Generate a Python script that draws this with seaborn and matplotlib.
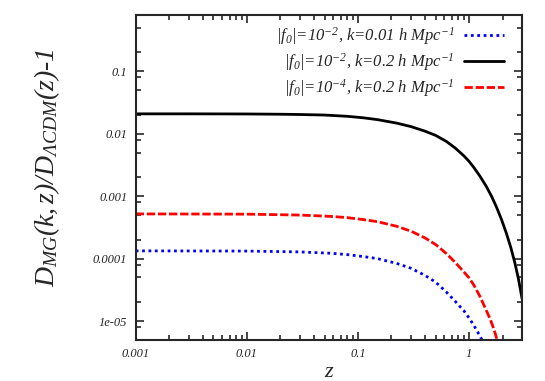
import matplotlib
matplotlib.use('Agg')
import matplotlib.pyplot as plt
import matplotlib.ticker as mticker
import seaborn as sns

# (z, D_MG/D_LCDM - 1)
z_blue = [0.001, 0.01, 0.03, 0.056, 0.08, 0.111, 0.15, 0.222, 0.3, 0.4, 0.5,
          0.626, 0.75, 0.9, 1.0, 1.1, 1.25, 1.34, 1.45]
d_blue = [1.33e-4, 1.32e-4, 1.28e-4, 1.22e-4, 1.16e-4, 1.08e-4, 1.0e-4, 8.4e-5,
          7.0e-5, 5.4e-5, 4.2e-5, 2.9e-5, 2.07e-5, 1.45e-5, 1.12e-5, 8.6e-6,
          5.8e-6, 4.6e-6, 3.5e-6]

z_black = [0.001, 0.003, 0.01, 0.02, 0.03, 0.05, 0.08, 0.111, 0.15, 0.222, 0.3,
           0.4, 0.5, 0.626, 0.75, 0.9, 1.0, 1.1, 1.25, 1.43, 1.6, 1.76, 1.95,
           2.17, 2.38, 2.58, 2.78, 3.0]
d_black = [0.0208, 0.0208, 0.0207, 0.0205, 0.0203, 0.0199, 0.0190, 0.0180,
           0.0168, 0.0148, 0.0130, 0.0110, 0.0094, 0.0075, 0.0059, 0.0044,
           0.0036, 0.0029, 0.0021, 0.00143, 0.00098, 0.000675, 0.00043,
           0.000252, 0.000148, 0.000086, 0.0000473, 0.0000227]

z_red = [0.001, 0.01, 0.03, 0.056, 0.08, 0.111, 0.15, 0.222, 0.3, 0.4, 0.5,
         0.626, 0.75, 0.9, 1.0, 1.1, 1.25, 1.4, 1.54, 1.66, 1.76, 1.85]
d_red = [5.2e-4, 5.15e-4, 4.98e-4, 4.75e-4, 4.53e-4, 4.22e-4, 3.9e-4, 3.3e-4,
         2.75e-4, 2.15e-4, 1.68e-4, 1.2e-4, 8.7e-5, 6.1e-5, 4.9e-5, 3.8e-5,
         2.5e-5, 1.6e-5, 1.1e-5, 7.7e-6, 5.5e-6, 3.6e-6]

labels = [r'$|f_0|$=10$^{-2}$, k=0.01 h Mpc$^{-1}$',
          r'$|f_0|$=10$^{-2}$, k=0.2 h Mpc$^{-1}$',
          r'$|f_0|$=10$^{-4}$, k=0.2 h Mpc$^{-1}$']

sns.set_style('ticks')
plt.rcParams['font.family'] = ['Liberation Serif', 'DejaVu Serif']
plt.rcParams['font.style'] = 'italic'
plt.rcParams['mathtext.fontset'] = 'custom'
plt.rcParams['mathtext.rm'] = 'Liberation Serif:italic'
plt.rcParams['mathtext.it'] = 'Liberation Serif:italic'
plt.rcParams['mathtext.default'] = 'it'

fig, ax = plt.subplots(figsize=(5.45, 3.81), dpi=100)
fig.subplots_adjust(left=0.249, right=0.958, top=0.961, bottom=0.108)

sns.lineplot(x=z_blue, y=d_blue, ax=ax, color='#0000ff', lw=2,
             linestyle=(0, (1, 1.3)), label=labels[0])
sns.lineplot(x=z_black, y=d_black, ax=ax, color='black', lw=2,
             linestyle='-', label=labels[1])
sns.lineplot(x=z_red, y=d_red, ax=ax, color='#ff0000', lw=2,
             linestyle=(0, (3, 1)), label=labels[2])

ax.set_xscale('log')
ax.set_yscale('log')
ax.set_xlim(0.001, 3)
ax.set_ylim(5e-6, 0.8)

fmt = mticker.FuncFormatter(lambda v, p: '%g' % v)
ax.xaxis.set_major_locator(mticker.LogLocator(base=10))
ax.xaxis.set_minor_locator(mticker.LogLocator(base=10, subs=range(2, 10)))
ax.yaxis.set_major_locator(mticker.LogLocator(base=10))
ax.yaxis.set_minor_locator(mticker.LogLocator(base=10, subs=[2, 5, 8]))
ax.xaxis.set_major_formatter(fmt)
ax.yaxis.set_major_formatter(fmt)
ax.xaxis.set_minor_formatter(mticker.NullFormatter())
ax.yaxis.set_minor_formatter(mticker.NullFormatter())

ax.tick_params(which='both', direction='in', top=True, right=True,
               labelsize=9, width=1.2, pad=6)
ax.tick_params(which='major', length=6)
ax.tick_params(which='minor', length=3.5)
for s in ax.spines.values():
    s.set_linewidth(1.5)

ax.set_xlabel('z', fontsize=16)
ax.set_ylabel(r'$D_{MG}(k,z)/D_{\Lambda CDM}(z)$-1', fontsize=20)
ax.xaxis.set_label_coords(0.5, -0.07)
ax.yaxis.set_label_coords(-0.19, 0.53)

ax.legend(loc='upper right', frameon=False, markerfirst=False, fontsize=12,
          handlelength=2.4, handletextpad=0.6, labelspacing=0.25,
          borderaxespad=0.2, bbox_to_anchor=(0.98, 1.0))

fig.savefig('out.png', dpi=100)
